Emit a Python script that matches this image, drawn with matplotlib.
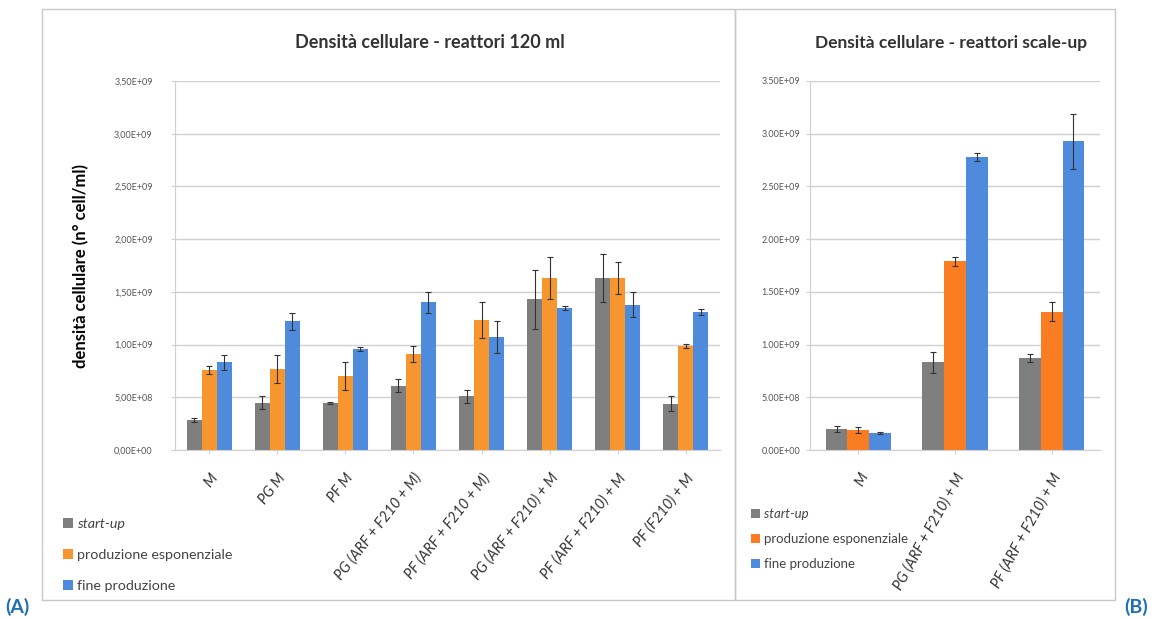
import matplotlib.pyplot as plt
import numpy as np
from matplotlib.patches import Rectangle

plt.rcParams['font.family'] = ['Lato', 'DejaVu Sans']

# dati (valori in cell/ml)
cat_a = ['M', 'PG M', 'PF M', 'PG (ARF + F210 + M)', 'PF (ARF + F210 + M)',
         'PG (ARF + F210) + M', 'PF (ARF + F210) + M', 'PF (F210) + M']
startup_a = [0.285e9, 0.45e9, 0.45e9, 0.61e9, 0.51e9, 1.43e9, 1.63e9, 0.44e9]
espon_a = [0.76e9, 0.77e9, 0.70e9, 0.91e9, 1.23e9, 1.63e9, 1.63e9, 0.99e9]
fine_a = [0.83e9, 1.22e9, 0.96e9, 1.40e9, 1.07e9, 1.35e9, 1.38e9, 1.31e9]
startup_a_err = [0.02e9, 0.06e9, 0.01e9, 0.06e9, 0.06e9, 0.28e9, 0.23e9, 0.07e9]
espon_a_err = [0.04e9, 0.13e9, 0.13e9, 0.08e9, 0.17e9, 0.20e9, 0.15e9, 0.02e9]
fine_a_err = [0.07e9, 0.08e9, 0.02e9, 0.10e9, 0.15e9, 0.02e9, 0.12e9, 0.03e9]

cat_b = ['M', 'PG (ARF + F210) + M', 'PF (ARF + F210) + M']
startup_b = [0.20e9, 0.83e9, 0.87e9]
espon_b = [0.19e9, 1.79e9, 1.31e9]
fine_b = [0.16e9, 2.78e9, 2.93e9]
startup_b_err = [0.03e9, 0.10e9, 0.04e9]
espon_b_err = [0.03e9, 0.04e9, 0.09e9]
fine_b_err = [0.01e9, 0.04e9, 0.26e9]

yticks = np.arange(0, 3.51e9, 0.5e9)
yticklabels_a = ['0,00E+00', '5,00E+08', '1,00E+09', '1,50E+09', '2,00E+09',
                 '2,50E+09', '3,00E+09', '3,50E+09']
yticklabels_b = ['0.00E+00', '5.00E+08', '1.00E+09', '1.50E+09', '2.00E+09',
                 '2.50E+09', '3.00E+09', '3.50E+09']
serie = ['start-up', 'produzione esponenziale', 'fine produzione']

grigio = '#7f7f7f'
blu = '#4f8bdc'

fig = plt.figure(figsize=(11.6, 6.19), dpi=100)

# cornici dei due pannelli
fig.patches.append(Rectangle((42/1160, 1-600/619), (735-42)/1160, (600-9)/619,
                             transform=fig.transFigure, fill=False, ec='#c8c8c8', lw=1))
fig.patches.append(Rectangle((735/1160, 1-600/619), (1115-735)/1160, (600-9)/619,
                             transform=fig.transFigure, fill=False, ec='#c8c8c8', lw=1))


def pannello(ax, cat, dati, errori, colori, w, ticklabels, rot, ypad, xsize):
    x = np.arange(len(cat))
    bars = []
    for i, (v, e, c) in enumerate(zip(dati, errori, colori)):
        b = ax.bar(x + (i - 1) * w, v, w, color=c, yerr=e, capsize=2,
                   error_kw=dict(ecolor='#333333', elinewidth=0.8, capthick=0.8))
        bars.append(b)
    ax.set_ylim(0, 3.5e9)
    ax.set_xlim(-0.5, len(cat) - 0.5)
    ax.set_yticks(yticks)
    ax.set_yticklabels(ticklabels, fontsize=6.5, color='#555555')
    ax.set_xticks(x)
    ax.set_xticklabels(cat, rotation=rot, ha='right', rotation_mode='anchor',
                       fontsize=xsize, style='italic', color='#333333')
    ax.yaxis.grid(True, color='#d0d0d0', lw=1)
    ax.set_axisbelow(True)
    for s in ['top', 'right']:
        ax.spines[s].set_visible(False)
    ax.spines['left'].set_color('#d0d0d0')
    ax.spines['bottom'].set_color('#d0d0d0')
    ax.tick_params(axis='both', length=3, color='#d0d0d0')
    ax.tick_params(axis='y', pad=ypad)
    ax.tick_params(axis='x', pad=12)
    return bars


ax1 = fig.add_axes([175/1160, 1-450/619, 545/1160, 369/619])
b1 = pannello(ax1, cat_a, [startup_a, espon_a, fine_a],
              [startup_a_err, espon_a_err, fine_a_err],
              [grigio, '#f7962e', blu], 0.22, yticklabels_a, 52, 13, 10.5)
ax1.set_ylabel('densità cellulare (n° cell/ml)', fontsize=12, fontweight='bold', labelpad=18)
fig.text(430/1160, 1-43/619, 'Densità cellulare - reattori 120 ml', fontsize=13,
         fontweight='bold', color='#333333', ha='center', va='center')
leg1 = fig.legend(b1, serie, loc='center left', bbox_to_anchor=(50/1160, 1-555/619),
                  frameon=False, fontsize=10.3, handlelength=0.7, handleheight=0.7,
                  handletextpad=0.3, labelspacing=1.35, labelcolor='#444444')
leg1.get_texts()[0].set_style('italic')

ax2 = fig.add_axes([810/1160, 1-450/619, 290/1160, 369/619])
b2 = pannello(ax2, cat_b, [startup_b, espon_b, fine_b],
              [startup_b_err, espon_b_err, fine_b_err],
              [grigio, '#fb7d22', blu], 0.225, yticklabels_b, 61, 4, 10.5)
fig.text(951/1160, 1-43/619, 'Densità cellulare - reattori scale-up', fontsize=12.5,
         fontweight='bold', color='#333333', ha='center', va='center')
leg2 = fig.legend(b2, serie, loc='center left', bbox_to_anchor=(739/1160, 1-539/619),
                  frameon=False, fontsize=9.5, handlelength=0.7, handleheight=0.7,
                  handletextpad=0.3, labelspacing=1.0, labelcolor='#444444')
leg2.get_texts()[0].set_style('italic')

fig.text(5/1160, 1-607/619, '(A)', fontsize=14, fontweight='bold', color='#1f6fb5', va='center')
fig.text(1124/1160, 1-607/619, '(B)', fontsize=14, fontweight='bold', color='#1f6fb5', va='center')

fig.savefig('out.png', dpi=100)
